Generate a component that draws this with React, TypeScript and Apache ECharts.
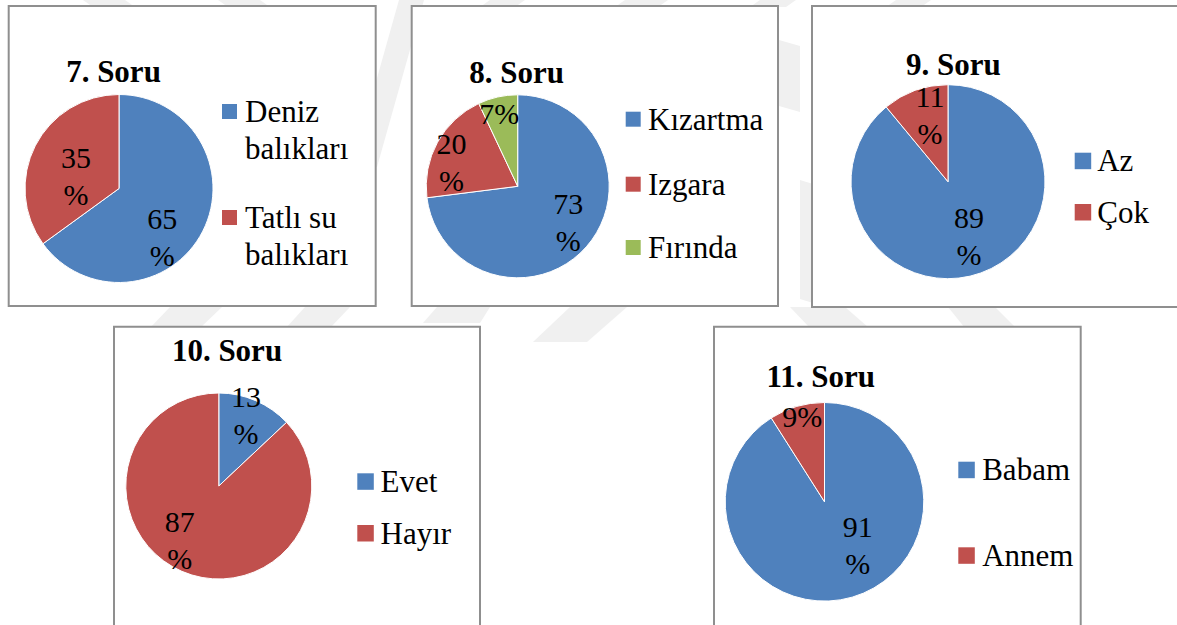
import React, { useEffect, useRef } from 'react';
import * as echarts from 'echarts';

// ---------------- data ----------------
const q7Title = '7. Soru';
const q7Names = ['Deniz balıkları', 'Tatlı su balıkları'];
const q7Values = [65, 35];
const q7LegendText = ['Deniz\nbalıkları', 'Tatlı su\nbalıkları'];

const q8Title = '8. Soru';
const q8Names = ['Kızartma', 'Izgara', 'Fırında'];
const q8Values = [73, 20, 7];

const q9Title = '9. Soru';
const q9Names = ['Az', 'Çok'];
const q9Values = [89, 11];

const q10Title = '10. Soru';
const q10Names = ['Evet', 'Hayır'];
const q10Values = [13, 87];

const q11Title = '11. Soru';
const q11Names = ['Babam', 'Annem'];
const q11Values = [91, 9];

// ---------------- style ----------------
const SERIF = 'Liberation Serif';
const BLUE = '#4F81BD';
const RED = '#C0504D';
const GREEN = '#9BBB59';
const WM = '#f0f0f0';

type ChartCfg = {
  title: string;
  names: string[];
  values: number[];
  legendText?: string[];
  colors: string[];
  box: [number, number, number, number];
  titlePos: [number, number];
  center: [number, number];
  radius: number;
  wrap: boolean[];
  offsets: [number, number][];
  iconX: number;
  iconTops: number[];
  iconSize: number;
  textPad: number;
};

const charts: ChartCfg[] = [
  {
    title: q7Title, names: q7Names, values: q7Values, legendText: q7LegendText,
    colors: [BLUE, RED],
    box: [8.7, 6, 367, 300], titlePos: [113.5, 71],
    center: [119, 188.5], radius: 94,
    wrap: [true, true], offsets: [[-1.4, 26], [1.5, 9.8]],
    iconX: 222, iconTops: [104, 210], iconSize: 15, textPad: 3,
  },
  {
    title: q8Title, names: q8Names, values: q8Values,
    colors: [BLUE, RED, GREEN],
    box: [411.7, 6, 366.3, 300], titlePos: [516.7, 72.5],
    center: [517.7, 186.3], radius: 91.5,
    wrap: [true, true, false], offsets: [[14, 3], [-23.5, -0.8], [-7.7, -25.5]],
    iconX: 625.7, iconTops: [111.7, 176.7, 240], iconSize: 15, textPad: 2.3,
  },
  {
    title: q9Title, names: q9Names, values: q9Values,
    colors: [BLUE, RED],
    box: [812, 6, 420, 301], titlePos: [953.3, 64.5],
    center: [948, 181.7], radius: 97,
    wrap: [true, true], offsets: [[3.5, 5.5], [-0.6, -18]],
    iconX: 1074.7, iconTops: [152.7, 204], iconSize: 16.5, textPad: 1,
  },
  {
    title: q10Title, names: q10Names, values: q10Values,
    colors: [BLUE, RED],
    box: [114, 326.7, 366, 400], titlePos: [227, 350],
    center: [218.8, 486], radius: 93,
    wrap: [true, true], offsets: [[7.5, -26], [-19.5, 8.5]],
    iconX: 357.3, iconTops: [473.3, 525], iconSize: 16.5, textPad: 1.8,
  },
  {
    title: q11Title, names: q11Names, values: q11Values,
    colors: [BLUE, RED],
    box: [714, 326.7, 366.7, 400], titlePos: [820.8, 376.7],
    center: [824.5, 501.8], radius: 99.3,
    wrap: [true, false], offsets: [[18.6, -7], [-7.5, -35]],
    iconX: 958.3, iconTops: [461.7, 547.3], iconSize: 16.5, textPad: 2.4,
  },
];

const watermark: number[][][] = [
  [[83, 0], [125, 0], [135, 7], [93, 7]],
  [[218, 0], [260, 0], [270, 7], [228, 7]],
  [[490, 0], [525, 0], [515, 7], [480, 7]],
  [[625, 0], [668, 0], [658, 7], [615, 7]],
  [[760, 0], [796, 0], [786, 7], [750, 7]],
  [[896, 0], [931, 0], [921, 7], [886, 7]],
  [[399, 0], [424, 0], [377, 167], [352, 167]],
  [[779, 40], [800, 46], [800, 112], [779, 106]],
  [[800, 180], [813, 184], [813, 303], [800, 299]],
  [[170, 307], [222, 307], [200, 328], [150, 328]],
  [[305, 307], [350, 307], [330, 328], [286, 328]],
  [[437, 307], [490, 307], [480, 323], [423, 323]],
  [[570, 307], [627, 307], [587, 342], [533, 342]],
  [[790, 307], [845, 307], [869, 328], [810, 328]],
  [[948, 307], [995, 307], [1016, 328], [965, 328]],
];

const LABEL_FONT = 30;
const LABEL_LH = 37;
const LEGEND_FONT = 31;
const LEGEND_LH = 36.5;
const TITLE_FONT = 31;

function buildOption(): any {
  const series: any[] = [];
  const legends: any[] = [];
  const graphics: any[] = [];

  watermark.forEach((pts) => {
    graphics.push({ type: 'polygon', z: 0, silent: true, shape: { points: pts }, style: { fill: WM } });
  });

  charts.forEach((c) => {
    graphics.push({
      type: 'rect', z: 1, silent: true,
      shape: { x: c.box[0], y: c.box[1], width: c.box[2], height: c.box[3] },
      style: { fill: '#ffffff', stroke: '#8f8f8f', lineWidth: 2 },
    });
    graphics.push({
      type: 'text', z: 10, silent: true, x: c.titlePos[0], y: c.titlePos[1],
      style: {
        text: c.title, align: 'center', verticalAlign: 'middle',
        fontFamily: SERIF, fontSize: TITLE_FONT, fontWeight: 'bold', fill: '#000',
      },
    });

    const wrap = c.wrap;
    const offs = c.offsets;
    series.push({
      type: 'pie',
      center: c.center,
      radius: c.radius,
      startAngle: 90,
      clockwise: true,
      silent: true,
      animation: false,
      avoidLabelOverlap: false,
      itemStyle: { borderColor: '#ffffff', borderWidth: 1 },
      label: {
        show: true,
        position: 'inside',
        formatter: (p: any) => (wrap[p.dataIndex] ? `${p.value}\n%` : `${p.value}%`),
        fontFamily: SERIF,
        fontSize: LABEL_FONT,
        lineHeight: LABEL_LH,
        color: '#000',
      },
      labelLine: { show: false },
      labelLayout: (p: any) => ({ dx: offs[p.dataIndex][0], dy: offs[p.dataIndex][1] }),
      emphasis: { disabled: true },
      data: c.names.map((n, i) => ({ name: n, value: c.values[i], itemStyle: { color: c.colors[i] } })),
    });

    c.names.forEach((n, i) => {
      const s = c.iconSize;
      const disp = c.legendText ? c.legendText[i] : n;
      const nLines = disp.split('\n').length;
      // multi-line entries: an empty leading line keeps the first line level with the icon
      const shown = nLines > 1 ? '\n' + disp : disp;
      const totalLines = nLines > 1 ? nLines + 1 : 1;
      const top = c.iconTops[i] + s / 2 - (totalLines * LEGEND_LH) / 2;
      legends.push({
        show: true,
        orient: 'vertical',
        left: c.iconX,
        top,
        padding: 0,
        itemGap: 0,
        itemWidth: s,
        itemHeight: s,
        icon: 'rect',
        selectedMode: false,
        itemStyle: { borderWidth: 0 },
        data: [{ name: n, icon: 'rect' }],
        formatter: () => shown,
        textStyle: {
          fontFamily: SERIF,
          fontSize: LEGEND_FONT,
          color: '#000',
          lineHeight: LEGEND_LH,
          padding: [0, 0, 0, c.textPad],
        },
      });
    });
  });

  return {
    animation: false,
    backgroundColor: '#ffffff',
    graphic: { elements: graphics },
    legend: legends,
    series,
  };
}

export default function App() {
  const ref = useRef<HTMLDivElement>(null);
  useEffect(() => {
    document.body.style.margin = '0';
    const el = ref.current;
    if (!el) return;
    const chart = echarts.init(el, null, { renderer: 'svg', width: 1177, height: 625 });
    chart.setOption(buildOption());
    return () => chart.dispose();
  }, []);
  return (
    <div
      ref={ref}
      style={{ position: 'fixed', left: 0, top: 0, width: 1177, height: 625, background: '#fff' }}
    />
  );
}
